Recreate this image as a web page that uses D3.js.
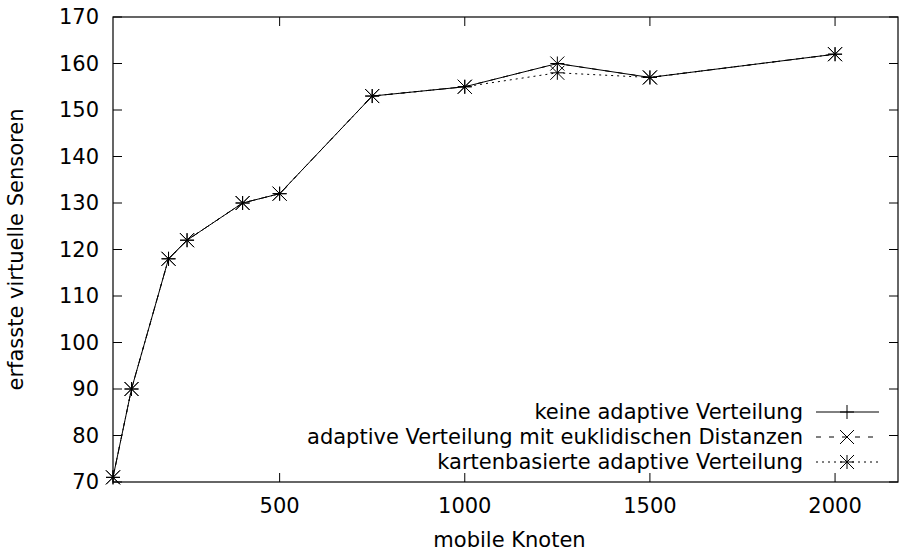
<!DOCTYPE html>
<html>
<head>
<meta charset="utf-8">
<script src="https://cdn.jsdelivr.net/npm/d3@7"></script>
<style>
  body { margin: 0; background: #fff; }
  text { font-family: "DejaVu Sans", sans-serif; fill: #000; }
</style>
</head>
<body>
<div id="chart"></div>
<script>
// data
var knoten = [50, 100, 200, 250, 400, 500, 750, 1000, 1250, 1500, 2000];
var keineAdaptiv = [71, 90, 118, 122, 130, 132, 153, 155, 160, 157, 162];
var euklidisch = [71, 90, 118, 122, 130, 132, 153, 155, 160, 157, 162];
var kartenbasiert = [71, 90, 118, 122, 130, 132, 153, 155, 158, 157, 162];
var xTicks = [500, 1000, 1500, 2000];
var yTicks = [70, 80, 90, 100, 110, 120, 130, 140, 150, 160, 170];
var seriesNames = ["keine adaptive Verteilung",
                   "adaptive Verteilung mit euklidischen Distanzen",
                   "kartenbasierte adaptive Verteilung"];

var W = 899, H = 555;
var margin = {top: 17, right: 1, bottom: 73, left: 113},
    width = W - margin.left - margin.right,
    height = H - margin.top - margin.bottom;

var svg = d3.select("#chart")
  .append("svg")
    .attr("width", W)
    .attr("height", H)
  .append("g")
    .attr("transform", "translate(" + margin.left + "," + margin.top + ")");

var x = d3.scaleLinear().domain([50, 2170]).range([0, width]);
var y = d3.scaleLinear().domain([70, 170]).range([height, 0]);

var fs = "21px";

// ticks, gnuplot style (inward, mirrored)
var tl = 9;
xTicks.forEach(function(t) {
  svg.append("line").attr("x1", x(t)).attr("x2", x(t)).attr("y1", height).attr("y2", height - tl)
    .attr("stroke", "#000");
  svg.append("line").attr("x1", x(t)).attr("x2", x(t)).attr("y1", 0).attr("y2", tl)
    .attr("stroke", "#000");
  svg.append("text").attr("x", x(t)).attr("y", height + 24)
    .attr("dy", "0.35em").style("text-anchor", "middle").style("font-size", fs).text(t);
});
yTicks.forEach(function(t) {
  svg.append("line").attr("x1", 0).attr("x2", tl).attr("y1", y(t)).attr("y2", y(t))
    .attr("stroke", "#000");
  svg.append("line").attr("x1", width).attr("x2", width - tl).attr("y1", y(t)).attr("y2", y(t))
    .attr("stroke", "#000");
  svg.append("text").attr("x", -14).attr("y", y(t))
    .attr("dy", "0.35em").style("text-anchor", "end").style("font-size", fs).text(t);
});

// border
svg.append("rect")
  .attr("x", 0).attr("y", 0).attr("width", width).attr("height", height)
  .attr("fill", "none").attr("stroke", "#000").attr("stroke-width", 1.2);

// axis labels
svg.append("text")
  .attr("transform", "rotate(-90)")
  .attr("x", -(height / 2))
  .attr("y", -margin.left + 16)
  .attr("dy", "0.35em")
  .style("text-anchor", "middle").style("font-size", fs)
  .text("erfasste virtuelle Sensoren");

svg.append("text")
  .attr("x", width / 2 + 4)
  .attr("y", height + 58)
  .attr("dy", "0.35em")
  .style("text-anchor", "middle").style("font-size", fs)
  .text("mobile Knoten");

// markers
var ms = 7;
function marker(g, type, cx, cy) {
  var p = "";
  if (type === 0 || type === 2) {
    p += "M" + (cx - ms) + "," + cy + "H" + (cx + ms) + "M" + cx + "," + (cy - ms) + "V" + (cy + ms);
  }
  if (type === 1 || type === 2) {
    p += "M" + (cx - ms) + "," + (cy - ms) + "L" + (cx + ms) + "," + (cy + ms) +
         "M" + (cx - ms) + "," + (cy + ms) + "L" + (cx + ms) + "," + (cy - ms);
  }
  g.append("path").attr("d", p).attr("stroke", "#000").attr("stroke-width", 1).attr("fill", "none");
}

var allSeries = [keineAdaptiv, euklidisch, kartenbasiert];
var dashes = [null, "5,8", "2,4"];

var line = d3.line()
  .x(function(d) { return x(d[0]); })
  .y(function(d) { return y(d[1]); });

allSeries.forEach(function(vals, s) {
  var pts = knoten.map(function(k, i) { return [k, vals[i]]; });
  svg.append("path")
    .datum(pts)
    .attr("d", line)
    .attr("fill", "none")
    .attr("stroke", "#000")
    .attr("stroke-width", 1)
    .attr("stroke-dasharray", dashes[s]);
  var g = svg.append("g");
  pts.forEach(function(p) { marker(g, s, x(p[0]), y(p[1])); });
});

// legend
var legX = 803 - margin.left, legY = 412 - margin.top, legStep = 25;
seriesNames.forEach(function(name, s) {
  var ly = legY + s * legStep;
  svg.append("text").attr("x", legX).attr("y", ly).attr("dy", "0.35em")
    .style("text-anchor", "end").style("font-size", fs).text(name);
  svg.append("line")
    .attr("x1", legX + 13).attr("x2", legX + 76).attr("y1", ly).attr("y2", ly)
    .attr("stroke", "#000").attr("stroke-width", 1)
    .attr("stroke-dasharray", dashes[s]);
  marker(svg, s, legX + 44, ly);
});
</script>
</body>
</html>
